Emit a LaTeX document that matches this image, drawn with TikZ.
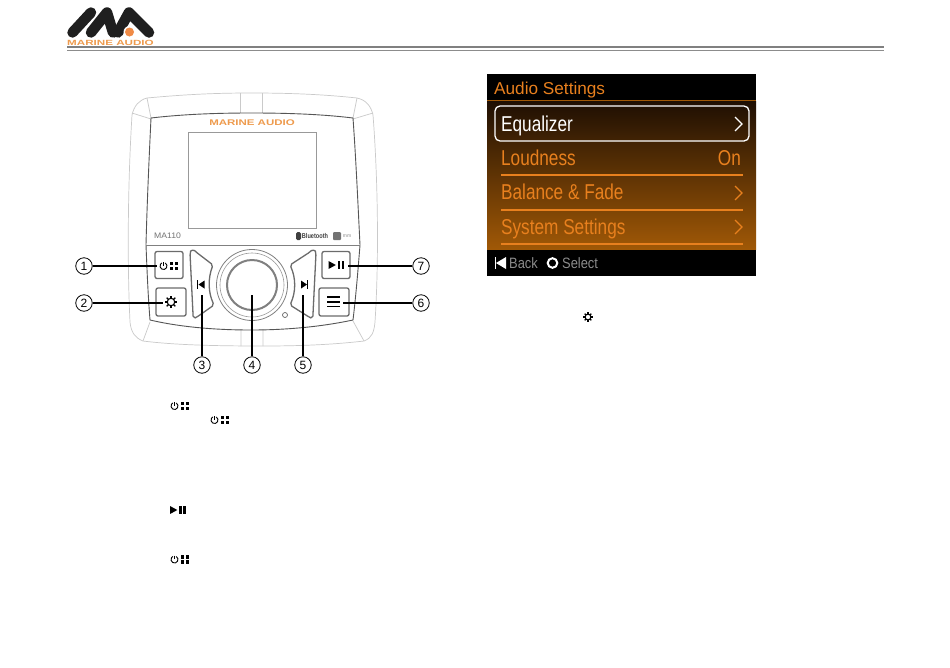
\documentclass[tikz,border=0pt]{standalone}
\usepackage{fontspec}
\setmainfont{Liberation Sans}
\usetikzlibrary{shapes,arrows}
\definecolor{maorange}{HTML}{E8801E}
\definecolor{logoorange}{HTML}{EE9B4E}
\definecolor{shellgray}{HTML}{CACACA}
\definecolor{framegray}{HTML}{555555}
\definecolor{barbrown}{HTML}{A05806}
\definecolor{topbrown}{HTML}{1E0F03}
\newcommand{\powergrid}[3]{
	\begin{scope}[shift={(#1,#2)},scale=#3]
		\draw[line width=.9pt] (-3.75,-3.03) arc (-60:240:3.5);
		\draw[line width=.9pt] (-5.5,-4) -- (-5.5,-.5);
		\foreach \gx in {1,5.6} \foreach \gy in {-4.2,.8} \fill (\gx,\gy) rectangle ++(3.4,3.4);
	\end{scope}
}
\newcommand{\gearicon}[3]{
	\begin{scope}[shift={(#1,#2)},scale=#3]
		\draw[line width=1.1pt] (0,0) circle (3.4);
		\foreach \ga in {0,45,...,315} \draw[line width=1.3pt] (\ga:3.2) -- (\ga:5.6);
	\end{scope}
}
\newcommand{\playpause}[3]{
	\begin{scope}[shift={(#1,#2)},scale=#3]
		\fill (-7.2,-3.6) -- (-.6,0) -- (-7.2,3.6) -- cycle;
		\fill (1,-3.6) rectangle (3.4,3.6);
		\fill (4.8,-3.6) rectangle (7.2,3.6);
	\end{scope}
}
\begin{document}
\begin{tikzpicture}[x=1pt,y=-1pt]
	\tikzstyle{numcircle}=[draw, shape=circle, line width=.8pt, minimum size=16.5pt, inner sep=0pt, font=\fontsize{12}{12}\selectfont];
	\tikzstyle{leader}=[line width=1.1pt, black];
	\tikzstyle{shell}=[draw=shellgray, line width=.7pt];
	\tikzstyle{frame}=[draw=framegray, line width=.9pt];
	\tikzstyle{keycap}=[draw=black!58, fill=white, line width=1.3pt, rounded corners=2pt];
	\tikzstyle{menutext}=[anchor=base west, inner sep=0pt, text=maorange, transform shape, xscale=.8, font=\fontsize{21.5}{21.5}\selectfont];
	\tikzstyle{rowline}=[maorange, line width=1.3pt];
	\tikzstyle{chevron}=[maorange, line width=1.3pt];
	\tikzstyle{hintext}=[anchor=base west, inner sep=0pt, text=black!45, transform shape, xscale=.86, font=\fontsize{15}{15}\selectfont];
	\useasboundingbox (0,0) rectangle (950,667);
	\fill[white] (0,0) rectangle (950,667);

	\draw[line width=2pt, black!50] (67,46.5) -- (884,46.5);
	\draw[line width=.8pt, black!45] (67,50) -- (884,50);
	\draw[line width=10.5pt, line cap=round, black!88] (72.5,32.5) -- (91,12.5);
	\draw[line width=10.5pt, line cap=round, line join=round, black!88] (91,32.5) -- (107,12.5) -- (113,32.5);
	\draw[line width=10.5pt, line cap=round, line join=round, black!88] (118,32.5) -- (129,12.5) -- (149,32.5);
	\fill[white] (129.5,32) circle (6);
	\fill[logoorange!90!red] (129.5,32) circle (4.5);
	\node[inner sep=0pt, text=logoorange, transform shape, xscale=1.55, font=\bfseries\fontsize{7.5}{7.5}\selectfont] (logotext) at (110.5,43) {MARINE AUDIO};

	\draw[shell] (147,98) .. controls (190,94) and (220,93) .. (251,93) .. controls (285,93) and (320,94) .. (357,98) .. controls (366,100) and (371,106) .. (373,115) .. controls (378,180) and (379,260) .. (375,322) .. controls (374,332) and (372,338) .. (364,341) .. controls (330,345) and (295,346) .. (263,346) .. controls (215,346) and (175,345) .. (143,341) .. controls (135,338) and (131,332) .. (130,322) .. controls (127,260) and (128,180) .. (132,115) .. controls (134,106) and (139,100) .. (147,98) -- cycle;
	\draw[shell] (147,98) -- (151,118) (357,98) -- (353,118) (132,113) -- (151,119) (373,113) -- (353,119);
	\draw[shell] (240,93) -- (240,113) (262,93) -- (262,113);
	\draw[shell] (143,341) -- (150,322) (364,341) -- (353,321) (241,329) -- (241,346) (263,329) -- (263,346);
	\draw[frame] (151,118) .. controls (185,114) and (220,113) .. (251,113) .. controls (285,113) and (320,114) .. (353,118) .. controls (356,160) and (358,205) .. (360,245) .. controls (358,270) and (356,295) .. (353,320) .. controls (320,327) and (285,330) .. (251,330) .. controls (215,330) and (180,327) .. (150,320) .. controls (148,295) and (147,270) .. (146,245) .. controls (147,205) and (149,160) .. (151,118) -- cycle;
	\draw[shell, black!50] (146,245) -- (360,245);
	\node[draw=black!40, line width=.7pt, minimum width=128pt, minimum height=96pt, inner sep=0pt] (screen) at (252,180) {};
	\node[inner sep=0pt, text=logoorange, transform shape, xscale=1.4, font=\bfseries\fontsize{8.2}{8.2}\selectfont] (brand) at (252,122.5) {MARINE AUDIO};
	\node[inner sep=0pt, text=black!55, transform shape, xscale=1.08, font=\fontsize{8}{8}\selectfont] (model) at (167.5,236) {MA110};
	\node[draw=none, fill=black!75, rounded corners=1.5pt, minimum width=5pt, minimum height=8pt, inner sep=0pt] (btbadge) at (298.5,236) {};
	\node[inner sep=0pt, text=black!75, transform shape, xscale=.8, font=\bfseries\fontsize{7}{7}\selectfont] (bluetooth) at (315,236) {Bluetooth};
	\node[draw=none, fill=black!55, rounded corners=1pt, minimum width=8pt, minimum height=8pt, inner sep=0pt] (usbbadge) at (337,236) {};
	\node[inner sep=0pt, text=black!45, font=\fontsize{5}{5}\selectfont] (usb) at (347,236) {mm};

	\node[keycap, minimum width=28pt, minimum height=27pt, inner sep=0pt] (sourcekey) at (169,265) {};
	\node[keycap, minimum width=30pt, minimum height=28pt, inner sep=0pt] (setkey) at (171,302) {};
	\node[keycap, minimum width=28pt, minimum height=27pt, inner sep=0pt] (playkey) at (336,265) {};
	\node[keycap, minimum width=30pt, minimum height=28pt, inner sep=0pt] (menukey) at (334,302) {};
	\draw[keycap] (190,253) .. controls (191,250) and (194,250) .. (196,252) -- (213,265) .. controls (208,278) and (208,292) .. (214,305) -- (197,317) .. controls (195,318) and (193,316) .. (193,314) -- cycle;
	\draw[keycap] (316,253) .. controls (315,250) and (312,250) .. (310,252) -- (290,265) .. controls (296,278) and (296,292) .. (290,305) -- (309,317) .. controls (311,318) and (313,316) .. (313,314) -- cycle;
	\node[draw=black!50, shape=circle, line width=.8pt, minimum size=71pt, inner sep=0pt] (knobouter) at (252,285) {};
	\node[draw=black!40, shape=circle, line width=.6pt, minimum size=64pt, inner sep=0pt] (knobring) at (252,285) {};
	\node[draw=black!50, shape=circle, line width=2pt, minimum size=50pt, inner sep=0pt] (knob) at (252,285) {};
	\node[draw=black!60, shape=circle, line width=.7pt, minimum size=5pt, inner sep=0pt] (mic) at (285,315) {};

	\powergrid{169}{266}{1}
	\gearicon{171}{302}{1.1}
	\playpause{336.5}{265}{1.1}
	\draw[line width=1.6pt] (327,297) -- (339.5,297) (327,302) -- (339.5,302) (327,306.5) -- (339.5,306.5);
	\fill (198.5,284.5) -- (204.5,280.5) -- (204.5,288.5) -- cycle;
	\draw[line width=1.2pt] (197.5,280) -- (197.5,289);
	\fill (301,280.5) -- (307,284.5) -- (301,288.5) -- cycle;
	\draw[line width=1.2pt] (307.5,280) -- (307.5,289);

	\node[numcircle] (num1) at (84,266) {1};
	\node[numcircle] (num2) at (84,303) {2};
	\node[numcircle] (num3) at (202,365) {3};
	\node[numcircle] (num4) at (252,365) {4};
	\node[numcircle] (num5) at (303,365) {5};
	\node[numcircle] (num6) at (421,303) {6};
	\node[numcircle] (num7) at (421,266) {7};
	\coordinate (end1) at (157,266);
	\coordinate (end2) at (163,303);
	\coordinate (end3) at (202,295);
	\coordinate (end4) at (252,295);
	\coordinate (end5) at (303,295);
	\coordinate (end6) at (343,303);
	\coordinate (end7) at (348,266);
	\foreach \n in {1,...,7} \draw[leader] (num\n) -- (end\n);

	\fill[black] (487,74) rectangle (756,276);
	\shade[top color=topbrown, bottom color=barbrown] (487,101) rectangle (756,249);
	\draw[barbrown, line width=.8pt] (487,100.5) -- (756,100.5);
	\node[anchor=base west, inner sep=0pt, text=maorange, font=\fontsize{17.2}{17.2}\selectfont] (title) at (494,94) {Audio Settings};
	\node[draw=white, line width=1.3pt, rounded corners=5pt, minimum width=254pt, minimum height=35pt, inner sep=0pt] (selected) at (622,123.5) {};
	\node[menutext, text=white] (equalizer) at (501,131) {Equalizer};
	\node[menutext] (loudness) at (501,165) {Loudness};
	\node[menutext, anchor=base east] (loudon) at (741,165) {On};
	\node[menutext] (balance) at (501,199.5) {Balance \& Fade};
	\node[menutext] (system) at (501,234) {System Settings};
	\draw[rowline] (501,175) -- (743,175);
	\draw[rowline] (501,210) -- (743,210);
	\draw[rowline] (501,244) -- (743,244);
	\draw[chevron, white] (735,117) -- (742,124) -- (735,131);
	\draw[chevron] (735,186) -- (742,193) -- (735,200);
	\draw[chevron] (735,220) -- (742,227) -- (735,234);
	\fill[white] (496,263) -- (506,257) -- (506,269) -- cycle;
	\draw[white, line width=1.6pt] (495.5,257) -- (495.5,269);
	\node[hintext] (back) at (509,268) {Back};
	\draw[white, line width=2pt] (552.5,263) circle (4.8);
	\node[hintext] (select) at (562,268) {Select};

	\gearicon{588}{317}{.85}
	\powergrid{180}{406}{1}
	\powergrid{220}{420}{1}
	\playpause{178}{510}{1.1}
	\powergrid{180}{559.5}{1}
\end{tikzpicture}
\end{document}
